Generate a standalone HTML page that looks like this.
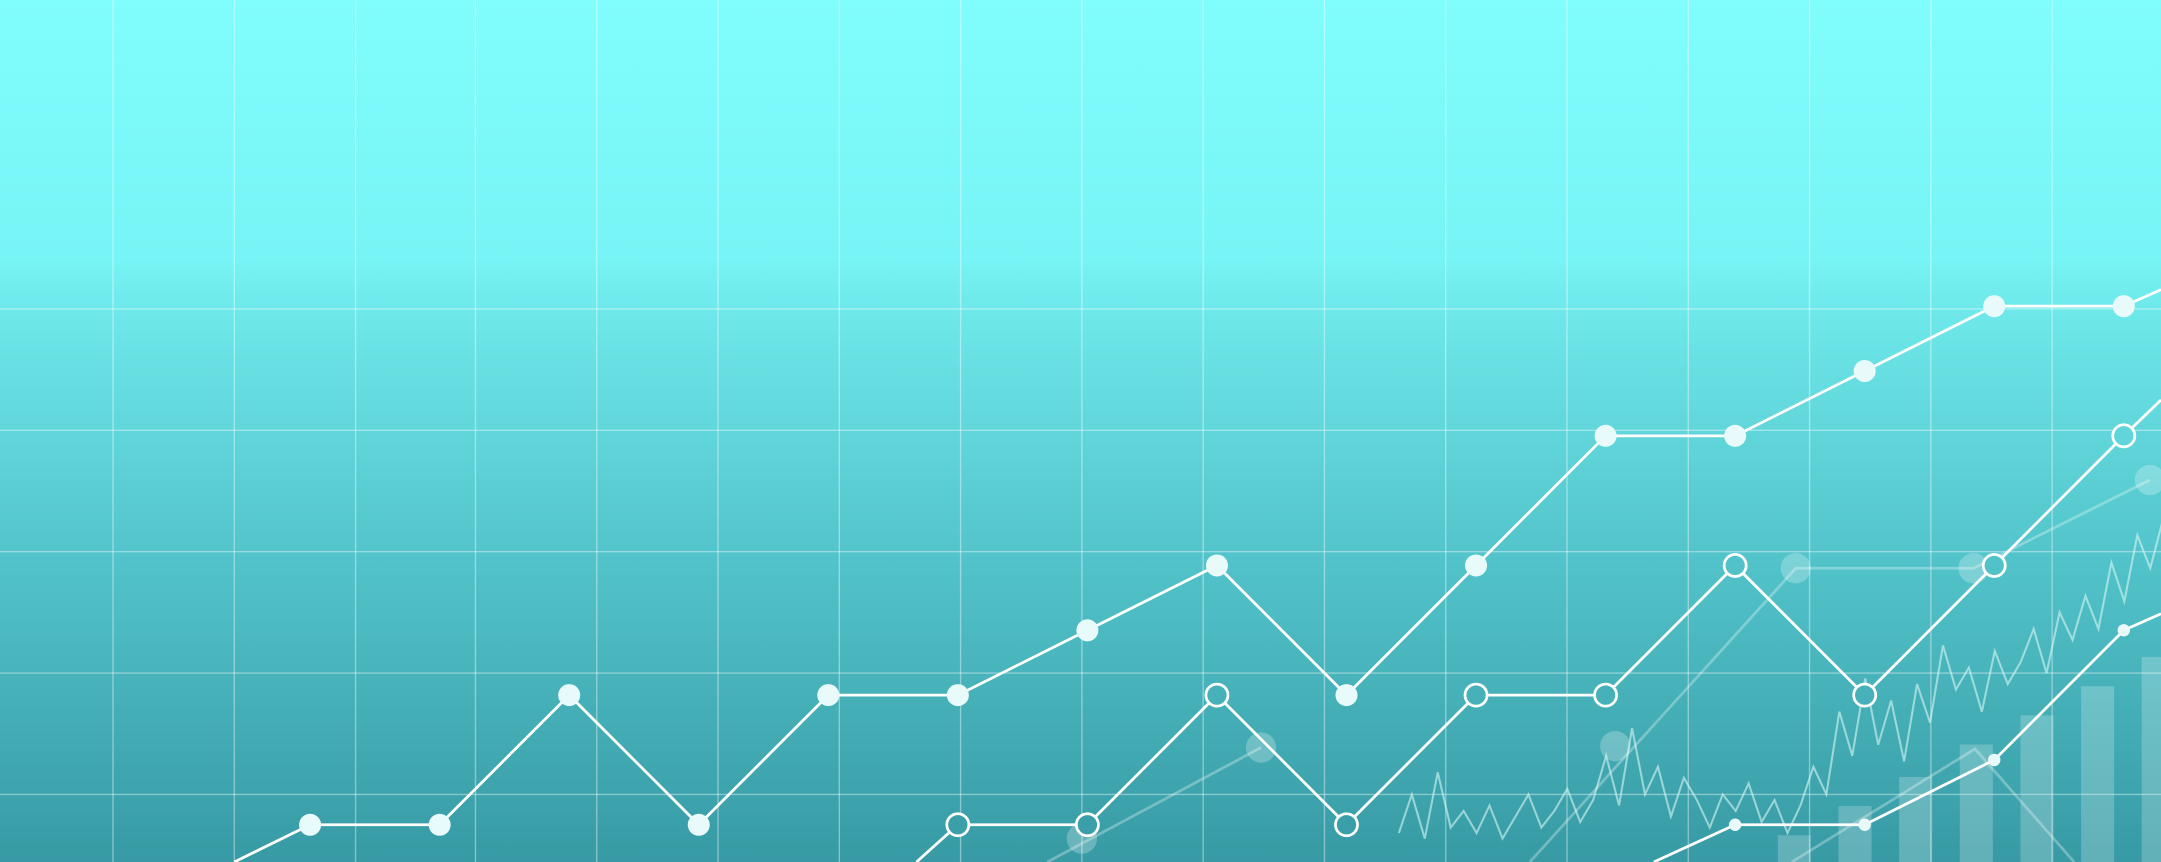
<!DOCTYPE html>
<html><head><meta charset="utf-8"><style>
html,body{margin:0;padding:0;overflow:hidden;background:#3a9ea8}
svg{display:block}
</style></head><body>
<svg id="chart" width="2161" height="862" viewBox="0 0 1568 625" preserveAspectRatio="none" xmlns="http://www.w3.org/2000/svg">
<defs><linearGradient id="bg" x1="0" y1="0" x2="0" y2="1">
<stop offset="0" stop-color="#80fdfd"/><stop offset="0.3" stop-color="#77f4f5"/><stop offset="0.36" stop-color="#6ee8ea"/><stop offset="0.65" stop-color="#52c3ca"/><stop offset="1" stop-color="#379aa4"/></linearGradient></defs>
<rect x="0" y="0" width="1568" height="625" fill="url(#bg)"/>
<g id="grid"></g>
<g id="bars"></g>
<g id="noise"></g>
<g id="faint"></g>
<g id="lines"></g>
</svg>
<script>
const gridX=[82,170,258,345,433,521,609,697,785,873,961,1049,1137,1225,1313,1401,1489];
const gridY=[224,312,400,488,576];
const s1Idx=[0,1,2,3,4,5,6,7,8,9,10,11,12,13,14];
const s1Val=[0,0,2,0,2,2,3,4,2,4,6,6,7,8,8];
const s2Idx=[5,6,7,8,9,10,11,12,13,14];
const s2Val=[0,0,2,0,2,2,4,2,4,6];
const s3Idx=[11,12,13,14];
const s3Val=[0,0,1,3];
const barVal=[0.05,0.5,0.95,1.45,1.9,2.35,2.8];
const noiseVal=[0.2,0.9,0.1,1.3,0.3,0.6,0.2,0.7,0.1,0.5,0.9,0.3,0.6,1.0,0.4,0.8,1.6,0.7,2.1,0.9,1.4,0.5,1.2,0.8,0.3,0.9,0.6,1.1,0.4,0.8,0.2,0.7,1.4,0.9,2.4,1.6,3.0,1.8,2.6,1.5,2.9,2.2,3.6,2.8,3.2,2.4,3.5,2.9,3.3,3.9,3.1,4.2,3.7,4.5,3.9,5.1,4.4,5.6,5.0,5.9];
const NS="http://www.w3.org/2000/svg";
const xs=i=>225+94*i, ys=v=>598-47*v;
const bgStops=[[0,[0x80,0xfd,0xfd]],[188,[0x77,0xf4,0xf5]],[225,[0x6e,0xe8,0xea]],[406,[0x52,0xc3,0xca]],[625,[0x37,0x9a,0xa4]]];
function bgAt(y){for(let i=1;i<bgStops.length;i++){const a=bgStops[i-1],b=bgStops[i];if(y<=b[0]){const t=(y-a[0])/(b[0]-a[0]);return 'rgb('+a[1].map((c,k)=>Math.round(c+(b[1][k]-c)*t)).join(',')+')';}}return 'rgb(55,154,164)';}
function mk(t,a,p){const e=document.createElementNS(NS,t);for(const k in a)e.setAttribute(k,a[k]);p.appendChild(e);return e;}
const G=document.getElementById('grid');
gridX.forEach(x=>{const l=mk('line',{x1:x,y1:0,x2:x,y2:625,stroke:'#fff','stroke-opacity':0.4,'stroke-width':1},G);

});
gridY.forEach(y=>{const l=mk('line',{x1:0,y1:y,x2:1568,y2:y,stroke:'#fff','stroke-opacity':0.4,'stroke-width':1},G);

});
const B=document.getElementById('bars');
barVal.forEach((v,i)=>{const x=1290+44*i,y=ys(v)+10;const r=mk('rect',{x:x,y:y,width:24,height:625-y,fill:'#fff','fill-opacity':0.22},B);

});
const N=document.getElementById('noise');
let pts=noiseVal.map((v,i)=>[1015+9.4*i,612-40*v]);
const np=mk('polyline',{points:pts.map(p=>p.join(',')).join(' '),fill:'none',stroke:'#d8f6f4','stroke-opacity':0.6,'stroke-width':1.5},N);


const F=document.getElementById('faint');
[[[760,625],[915,542]],[[1110,625],[1303,412],[1432,412],[1560,348]],[[1300,625],[1433,543],[1505,625]]].forEach(seg=>{
const l=mk('polyline',{points:seg.map(p=>p.join(',')).join(' '),fill:'none',stroke:'#fff','stroke-opacity':0.3,'stroke-width':2},F);

});
[[915,542],[1172,541],[1303,412],[1432,412],[1560,348],[785,608]].forEach(p=>{const c=mk('circle',{cx:p[0],cy:p[1],r:11,fill:'#fff','fill-opacity':0.25},F);

});
const L=document.getElementById('lines');
function series(idx,val,start,end,kind,r,name){
 const p=idx.map((i,k)=>[xs(i),ys(val[k])]);
 const all=[start].concat(p,[end]);
 const pl=mk('polyline',{points:all.map(q=>q.join(',')).join(' '),fill:'none',stroke:'#fff','stroke-width':2},L);
 
 
 p.forEach(q=>{const c=mk('circle',{cx:q[0],cy:q[1],r:r,fill:kind==='hollow'?bgAt(q[1]):'#e8fbfa',stroke:kind==='hollow'?'#fff':'none','stroke-width':2},L);
 
 });
}
series(s1Idx,s1Val,[170,625],[1568,210],'filled',8,'series-1');
series(s2Idx,s2Val,[665,625],[1568,290],'hollow',8,'series-2');
series(s3Idx,s3Val,[1200,625],[1568,445],'filled',4.5,'series-3');
</script>
</body></html>
